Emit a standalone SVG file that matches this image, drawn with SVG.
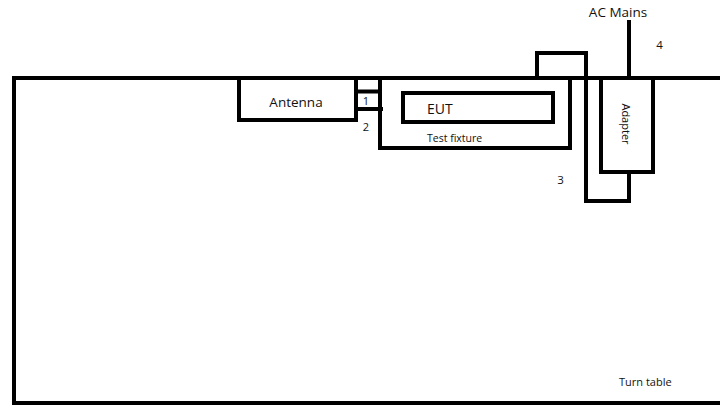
<svg xmlns="http://www.w3.org/2000/svg" width="720" height="405" viewBox="0 0 720 405">
<style>
.ln{fill:none;stroke:#000;stroke-width:4;stroke-linejoin:miter;stroke-linecap:square}
.t{font-family:"Open Sans","Liberation Sans",sans-serif;fill:#111}
</style>
<rect width="720" height="405" fill="#fff"/>
<g id="turn-table">
<path class="ln" d="M724 78 H14 V403 H724"/>
<text class="t" x="619" y="386" font-size="11">Turn table</text>
</g>
<g id="antenna">
<path class="ln" d="M239 78 V120 H356 V78"/>
<text class="t" x="296" y="107" font-size="13.5" text-anchor="middle">Antenna</text>
</g>
<g id="test-fixture">
<path class="ln" d="M380 78 V148 H570 V78"/>
<text class="t" x="427" y="142" font-size="10.5">Test fixture</text>
</g>
<g id="eut">
<rect class="ln" x="403" y="93" width="150" height="29"/>
<text class="t" x="427" y="114" font-size="14">EUT</text>
</g>
<g id="adapter">
<path class="ln" d="M601 78 V172 H653 V78"/>
<text class="t" x="0" y="0" font-size="11" text-anchor="middle" transform="translate(621.5 124) rotate(90)">Adapter</text>
</g>
<g id="ac-mains">
<text class="t" x="618" y="17" font-size="13.5" text-anchor="middle">AC Mains</text>
</g>
<g id="connectors">
<path class="ln" d="M356 91.5 H379 M356 109 H381"/>
<path class="ln" d="M537 78 V53 H586 V201 H629 V172"/>
<path class="ln" d="M629 22 V78"/>
<text class="t" x="366" y="105" font-size="11" text-anchor="middle">1</text>
<text class="t" x="366" y="131" font-size="11" text-anchor="middle">2</text>
<text class="t" x="560.5" y="184" font-size="11.5" text-anchor="middle">3</text>
<text class="t" x="659.5" y="49" font-size="11.5" text-anchor="middle">4</text>
</g>
</svg>
